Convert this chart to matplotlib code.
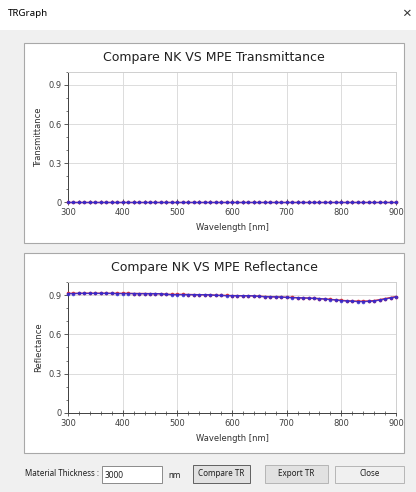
import matplotlib
matplotlib.use("Agg")
import matplotlib.pyplot as plt
from matplotlib.patches import Rectangle
from matplotlib.ticker import MultipleLocator

W, H = 416, 492

wavelength = list(range(300, 901, 10))

trans_nk = [0.003] * 61
trans_mpe = [0.002] * 61

refl_mpe = [
    0.912, 0.912, 0.913, 0.913, 0.913, 0.913, 0.913, 0.913, 0.913, 0.912,
    0.912, 0.912, 0.912, 0.911, 0.911, 0.911, 0.911, 0.910, 0.905, 0.904,
    0.904, 0.904, 0.904, 0.903, 0.903, 0.903, 0.902, 0.898, 0.897, 0.896,
    0.896, 0.895, 0.895, 0.895, 0.894, 0.890, 0.888, 0.887, 0.886, 0.885,
    0.882, 0.881, 0.880, 0.878, 0.877, 0.875, 0.873, 0.870, 0.866, 0.863,
    0.858, 0.855, 0.853, 0.851, 0.851, 0.852, 0.855, 0.862, 0.870, 0.878,
    0.886,
]
refl_nk = [
    0.913, 0.913, 0.913, 0.914, 0.914, 0.914, 0.914, 0.914, 0.913, 0.913,
    0.913, 0.913, 0.912, 0.912, 0.912, 0.911, 0.911, 0.910, 0.906, 0.905,
    0.905, 0.905, 0.904, 0.904, 0.903, 0.903, 0.902, 0.899, 0.898, 0.897,
    0.896, 0.896, 0.895, 0.895, 0.894, 0.891, 0.889, 0.888, 0.887, 0.885,
    0.883, 0.882, 0.880, 0.879, 0.877, 0.875, 0.873, 0.870, 0.867, 0.864,
    0.860, 0.857, 0.855, 0.853, 0.853, 0.855, 0.858, 0.865, 0.873, 0.881,
    0.889,
]

UI_FONT = "Noto Sans"


def fx(x):
    return x / W


def fy(y):
    return 1 - y / H


def box(fig, x0, y0, x1, y1, face, edge, lw=0.8):
    fig.add_artist(Rectangle((fx(x0), fy(y1)), fx(x1) - fx(x0), fy(y0) - fy(y1),
                             transform=fig.transFigure, facecolor=face,
                             edgecolor=edge, linewidth=lw, zorder=-5))


def setup_axes(ax, ylabel):
    ax.set_xlim(300, 900)
    ax.set_ylim(0, 1.0)
    ax.set_xticks([300, 400, 500, 600, 700, 800, 900])
    ax.set_yticks([0, 0.3, 0.6, 0.9])
    ax.set_yticklabels(["0", "0.3", "0.6", "0.9"])
    ax.xaxis.set_minor_locator(MultipleLocator(20))
    ax.yaxis.set_minor_locator(MultipleLocator(0.1))
    ax.tick_params(axis="x", which="major", direction="inout", length=4, width=0.6,
                   labelsize=6, pad=2.5, colors="#404040")
    ax.tick_params(axis="x", which="minor", direction="inout", length=2.5, width=0.5,
                   colors="#404040")
    ax.tick_params(axis="y", which="major", direction="out", length=3, width=0.6,
                   labelsize=6, pad=1.5, colors="#404040")
    ax.tick_params(axis="y", which="minor", direction="out", length=1.5, width=0.5,
                   colors="#404040")
    ax.grid(True, which="major", color="#dcdcdc", linewidth=0.7)
    ax.set_axisbelow(True)
    for side in ["top", "right"]:
        ax.spines[side].set_color("#cfcfcf")
        ax.spines[side].set_linewidth(0.7)
    for side in ["left", "bottom"]:
        ax.spines[side].set_color("#404040")
        ax.spines[side].set_linewidth(0.7)
    ax.set_xlabel("Wavelength [nm]", fontsize=6, color="#303030")
    ax.set_ylabel(ylabel, fontsize=6, color="#303030")
    ax.xaxis.set_label_coords(0.5, -0.16)
    ax.yaxis.set_label_coords(-0.075, 0.5)


def draw_series(ax, nk, mpe):
    ax.plot(wavelength, nk, color="#e8322e", linewidth=1.0, marker="o",
            markersize=2.6, markeredgewidth=0, clip_on=False, zorder=3)
    ax.plot(wavelength, mpe, color="#2a2ad8", linewidth=1.0, marker="o",
            markersize=2.6, markeredgewidth=0, alpha=0.8, clip_on=False, zorder=4)


fig = plt.figure(figsize=(W / 100, H / 100), dpi=100)
fig.patch.set_facecolor("#f0f0f0")

# title bar
box(fig, 0, 0, W, 30, "white", "none", 0)
fig.text(fx(8), fy(14), "TRGraph", fontsize=7, family=UI_FONT, va="center", ha="left")
fig.text(fx(406), fy(14), "×", fontsize=11, family=UI_FONT, va="center", ha="center",
         color="#333333")

# panels
box(fig, 24, 43, 404, 243, "white", "#a8a8a8")
box(fig, 24, 253, 404, 453, "white", "#a8a8a8")

ax1 = fig.add_axes([fx(68), fy(202), fx(396) - fx(68), fy(72) - fy(202)])
ax2 = fig.add_axes([fx(68), fy(413), fx(396) - fx(68), fy(282) - fy(413)])

draw_series(ax1, trans_nk, trans_mpe)
setup_axes(ax1, "Transmittance")
draw_series(ax2, refl_nk, refl_mpe)
setup_axes(ax2, "Reflectance")

fig.text(fx(214), fy(57), "Compare NK VS MPE Transmittance", fontsize=9, ha="center",
         va="center", color="#202020")
fig.text(fx(214), fy(267), "Compare NK VS MPE Reflectance", fontsize=9, ha="center",
         va="center", color="#202020")

# bottom controls
fig.text(fx(25), fy(474), "Material Thickness :", fontsize=5.8, family=UI_FONT,
         va="center", ha="left", color="#202020")
box(fig, 102, 466, 162, 483, "white", "#7a7a7a", 0.6)
fig.text(fx(105), fy(475), "3000", fontsize=6, family=UI_FONT, va="center",
         ha="left", color="#202020")
fig.text(fx(168), fy(475), "nm", fontsize=5.8, family=UI_FONT, va="center",
         ha="left", color="#202020")
box(fig, 193, 465, 250, 483, "#e1e1e1", "#606060", 0.7)
fig.text(fx(221.5), fy(474), "Compare TR", fontsize=5.8, family=UI_FONT, va="center",
         ha="center", color="#202020")
box(fig, 265, 465, 328, 483, "#e1e1e1", "#adadad", 0.6)
fig.text(fx(296.5), fy(474), "Export TR", fontsize=5.8, family=UI_FONT, va="center",
         ha="center", color="#202020")
box(fig, 335, 466, 404, 483, "#f0f0f0", "#adadad", 0.6)
fig.text(fx(369.5), fy(474), "Close", fontsize=5.8, family=UI_FONT, va="center",
         ha="center", color="#202020")

fig.savefig("out.png", dpi=100, facecolor=fig.get_facecolor())
